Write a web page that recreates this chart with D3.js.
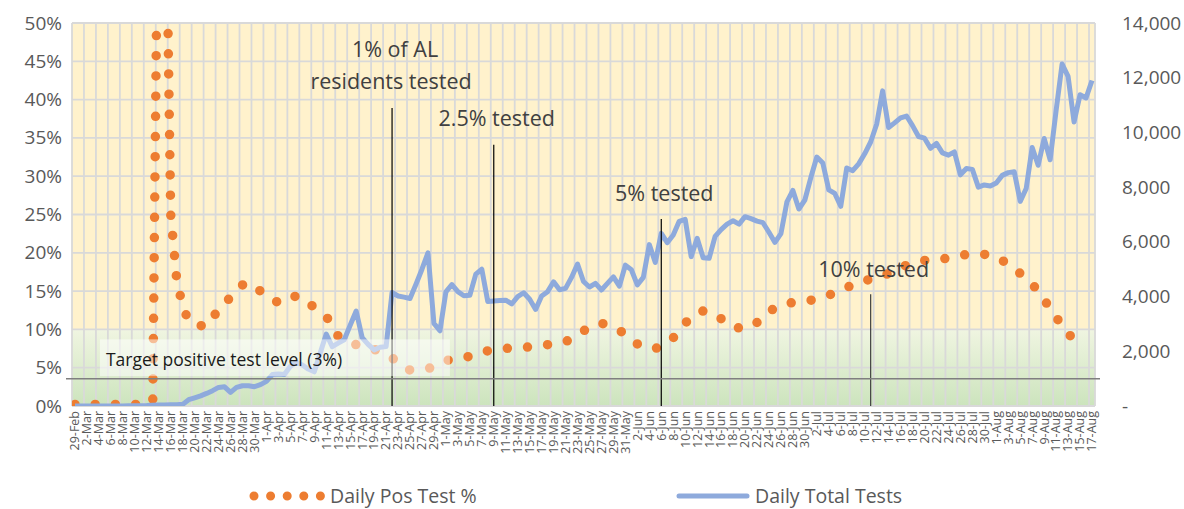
<!DOCTYPE html>
<html>
<head>
<meta charset="utf-8">
<script src="https://cdn.jsdelivr.net/npm/d3@7"></script>
<style>
  body { margin: 0; background: #fff; }
  text { font-family: "Open Sans", "Noto Sans", sans-serif; }
</style>
</head>
<body>
<div id="chart"></div>
<script>
// categories: one per day, 29-Feb to 17-Aug (2020)
const days = d3.timeDay.range(new Date(2020, 1, 29), new Date(2020, 7, 18));
const fmtDay = d3.timeFormat("%-d-%b");
const dayLabels = days.map(fmtDay);

// Daily Pos Test % (left axis, percent)
const posTestPct = [
  0.2, 0.2, 0.2, 0.2, 0.2, 0.2, 0.2, 0.2, 0.2, 0.2, 0.2, 0.2, 0.2, 0.6, 80, 79, 25, 16.5, 13, 11.1,
  10.7, 10.5, 10.4, 11.5, 12.6, 13.4, 14.2, 15.2, 15.8, 16.1, 15.6, 15.0, 14.4, 13.9, 13.5, 13.5, 14.0, 14.4, 14.0, 13.4,
  12.9, 12.3, 11.7, 10.5, 9.1, 8.6, 8.3, 8.0, 7.8, 7.6, 7.4, 7.1, 6.7, 6.3, 5.6, 4.9, 4.7, 4.7, 4.8, 4.9,
  5.1, 5.5, 5.9, 6.1, 6.2, 6.3, 6.5, 6.8, 7.0, 7.2, 7.3, 7.4, 7.5, 7.6, 7.6, 7.7, 7.7, 7.8, 7.9, 8.0,
  8.1, 8.2, 8.4, 8.8, 9.3, 9.8, 10.3, 10.7, 10.8, 10.6, 10.2, 9.9, 9.3, 8.7, 8.1, 7.7, 7.5, 7.5, 7.8, 8.3,
  8.9, 9.8, 10.8, 11.6, 12.2, 12.4, 12.3, 12.0, 11.4, 10.7, 10.3, 10.2, 10.2, 10.3, 10.9, 11.6, 12.3, 12.8, 13.2, 13.4,
  13.5, 13.5, 13.6, 13.8, 14.1, 14.3, 14.5, 14.7, 15.0, 15.4, 15.9, 16.2, 16.4, 16.5, 16.7, 17.0, 17.3, 17.6, 18.0, 18.4,
  18.7, 18.9, 19.0, 19.1, 19.2, 19.2, 19.3, 19.4, 19.6, 19.8, 19.9, 19.9, 19.8, 19.7, 19.4, 19.0, 18.5, 17.9, 17.3, 16.7,
  15.9, 15.0, 13.9, 12.7, 11.6, 10.5, 9.5, 8.6, null, null, null
];

// Daily Total Tests (right axis)
const totalTests = [
  0, 0, 0, 0, 0, 0, 0, 0, 0, 5, 10, 10, 15, 25, 35, 40, 45, 50, 60, 230,
  300, 370, 460, 560, 680, 700, 500, 680, 740, 740, 705, 780, 900, 1150, 1170, 1150, 1450, 1600, 1500, 1350,
  1250, 1950, 2630, 2170, 2300, 2420, 2950, 3470, 2500, 2250, 2050, 2150, 2170, 4150, 4020, 3980, 3930, 4450, 5000, 5600,
  3020, 2750, 4170, 4440, 4180, 4030, 4050, 4820, 5000, 3820, 3840, 3860, 3870, 3730, 4000, 4140, 3900, 3530, 4020, 4180,
  4540, 4250, 4300, 4700, 5190, 4550, 4350, 4480, 4240, 4480, 4720, 4380, 5150, 4980, 4430, 4700, 5900, 5250, 6310, 5970,
  6250, 6750, 6820, 5460, 6130, 5420, 5400, 6200, 6450, 6650, 6770, 6650, 6920, 6850, 6760, 6700, 6350, 5980, 6300, 7460,
  7880, 7200, 7530, 8350, 9100, 8880, 7900, 7770, 7300, 8700, 8600, 8850, 9220, 9650, 10300, 11520, 10180, 10350, 10530, 10600,
  10250, 9850, 9790, 9420, 9600, 9250, 9170, 9290, 8450, 8680, 8650, 8000, 8080, 8040, 8150, 8430, 8530, 8560, 7480, 7950,
  9450, 8800, 9780, 9000, 10800, 12500, 12050, 10380, 11380, 11260, 11900
];

const leftTicks = [0, 5, 10, 15, 20, 25, 30, 35, 40, 45, 50];
const rightTicks = [0, 2000, 4000, 6000, 8000, 10000, 12000, 14000];

// milestone notes: date of the marker line, text lines, text baseline (% axis), line top (% axis)
const milestones = [
  {day: "22-Apr", lines: ["1% of AL", "residents tested"], textAt: 45.5, lineTop: 38.9, color: "#000"},
  {day: "9-May", lines: ["2.5% tested"], textAt: 36.5, lineTop: 34.1, color: "#000"},
  {day: "6-Jun", lines: ["5% tested"], textAt: 26.7, lineTop: 24.4, color: "#000"},
  {day: "11-Jul", lines: ["10% tested"], textAt: 16.9, lineTop: 14.6, color: "#404040"}
];
const targetTests = 1000;          // drawn level of the target line (right axis)
const targetLabel = "Target positive test level (3%)";
const seriesNames = ["Daily Pos Test %", "Daily Total Tests"];

const W = 1184, H = 509;
const margin = {top: 23, right: 89, bottom: 103, left: 72};
const width = W - margin.left - margin.right;
const height = H - margin.top - margin.bottom;

const svg = d3.select("#chart").append("svg")
  .attr("width", W).attr("height", H);

const defs = svg.append("defs");
const grad = defs.append("linearGradient").attr("id", "greenGrad")
  .attr("x1", 0).attr("y1", 0).attr("x2", 0).attr("y2", 1);
grad.append("stop").attr("offset", "0%").attr("stop-color", "#f0f5e1");
grad.append("stop").attr("offset", "100%").attr("stop-color", "#cce4bd");
defs.append("clipPath").attr("id", "plotClip")
  .append("rect").attr("width", width).attr("height", height);

const g = svg.append("g")
  .attr("transform", "translate(" + margin.left + "," + margin.top + ")");

// scales
const x = d3.scaleBand().domain(dayLabels).range([0, width]).padding(0);
const y = d3.scaleLinear().domain([0, 50]).range([height, 0]);
const y2 = d3.scaleLinear().domain([0, 14000]).range([height, 0]);
const cx = d => x(d) + x.bandwidth() / 2;

// background
g.append("rect").attr("width", width).attr("height", height).attr("fill", "#fff2cc");
g.append("rect").attr("y", y(10)).attr("width", width).attr("height", y(0) - y(10))
  .attr("fill", "url(#greenGrad)");

// gridlines
g.append("g").selectAll("line")
  .data(leftTicks).join("line")
  .attr("x1", 0).attr("x2", width)
  .attr("y1", d => y(d)).attr("y2", d => y(d))
  .attr("stroke", "#d9d9d9").attr("stroke-width", 1.8);
const vGrid = dayLabels.filter((d, i) => i % 2 === 0).map(d => x(d)).concat([width]);
g.append("g").selectAll("line")
  .data(vGrid).join("line")
  .attr("x1", d => d).attr("x2", d => d)
  .attr("y1", 0).attr("y2", height)
  .attr("stroke", "#d9d9d9").attr("stroke-width", 1.8);

// left axis
const yAxis = d3.axisLeft(y).tickValues(leftTicks).tickSize(0).tickPadding(10)
  .tickFormat(d => d + "%");
g.append("g").call(yAxis)
  .call(a => a.select(".domain").remove())
  .selectAll("text").attr("font-size", 19).attr("fill", "#595959")
  .attr("font-family", "'Open Sans', sans-serif");

// right axis
const y2Axis = d3.axisRight(y2).tickValues(rightTicks).tickSize(0).tickPadding(27)
  .tickFormat(d => d === 0 ? "-" : d3.format(",")(d));
g.append("g").attr("transform", "translate(" + width + ",0)").call(y2Axis)
  .call(a => a.select(".domain").remove())
  .selectAll("text").attr("font-size", 19).attr("fill", "#595959")
  .attr("font-family", "'Open Sans', sans-serif");

// x axis labels (every other day)
const xAxis = d3.axisBottom(x).tickValues(dayLabels.filter((d, i) => i % 2 === 0))
  .tickSize(0).tickPadding(0);
g.append("g").attr("transform", "translate(0," + height + ")").call(xAxis)
  .call(a => a.select(".domain").remove())
  .selectAll("text")
  .attr("font-size", 12.5).attr("fill", "#595959")
  .attr("font-family", "'Open Sans', sans-serif")
  .attr("text-anchor", "end")
  .attr("transform", "rotate(-90)")
  .attr("x", -5).attr("y", 0).attr("dy", "0.35em");

const plot = g.append("g").attr("clip-path", "url(#plotClip)");

// pos test % : dotted line
const posLine = d3.line()
  .defined(d => d[1] !== null)
  .x(d => cx(d[0]))
  .y(d => y(d[1]));
plot.append("path")
  .datum(dayLabels.map((d, i) => [d, posTestPct[i]]))
  .attr("d", posLine)
  .attr("fill", "none")
  .attr("stroke", "#ed7d31")
  .attr("stroke-width", 9.5)
  .attr("stroke-linecap", "round")
  .attr("stroke-dasharray", "0 20.2");

// total tests : solid line
const testLine = d3.line()
  .x(d => cx(d[0]))
  .y(d => y2(d[1]));
plot.append("path")
  .datum(dayLabels.map((d, i) => [d, totalTests[i]]))
  .attr("d", testLine)
  .attr("fill", "none")
  .attr("stroke", "#8eaadc")
  .attr("stroke-width", 5)
  .attr("stroke-linejoin", "round");

// milestone lines + text
milestones.forEach(m => {
  g.append("line")
    .attr("x1", cx(m.day)).attr("x2", cx(m.day))
    .attr("y1", y(m.lineTop)).attr("y2", height)
    .attr("stroke", m.color)
    .attr("stroke-width", 1.2);
  const t = g.append("text")
    .attr("x", cx(m.day) + 3)
    .attr("y", y(m.textAt))
    .attr("text-anchor", "middle")
    .attr("font-size", 21.5)
    .attr("fill", "#404040");
  m.lines.forEach((l, i) => {
    t.append("tspan").attr("x", cx(m.day) + (i === 0 ? 3 : -1)).attr("dy", i === 0 ? 0 : 32).text(l);
  });
});

// target line and label box
g.append("line")
  .attr("x1", -6).attr("x2", width + 5)
  .attr("y1", y2(targetTests)).attr("y2", y2(targetTests))
  .attr("stroke", "#7f7f7f").attr("stroke-width", 1.5);
g.append("rect")
  .attr("x", x("5-Mar") - 2).attr("y", y(8.7))
  .attr("width", x("2-May") + 3 - x("5-Mar")).attr("height", y(3.9) - y(8.7))
  .attr("fill", "#fff").attr("opacity", 0.5);
g.append("text")
  .attr("x", x("5-Mar") + 4).attr("y", y(5.2))
  .attr("font-size", 17.5).attr("fill", "#1a1a1a")
  .text(targetLabel);

// legend
const legend = svg.append("g").attr("transform", "translate(0,496)");
legend.append("line")
  .attr("x1", 254).attr("x2", 321).attr("y1", 0).attr("y2", 0)
  .attr("stroke", "#ed7d31").attr("stroke-width", 9)
  .attr("stroke-linecap", "round").attr("stroke-dasharray", "0 16.6");
legend.append("text").attr("x", 330).attr("y", 0).attr("dy", "0.35em")
  .attr("font-size", 19.5).attr("fill", "#595959").text(seriesNames[0]);
legend.append("line")
  .attr("x1", 679).attr("x2", 747).attr("y1", 0).attr("y2", 0)
  .attr("stroke", "#8eaadc").attr("stroke-width", 5)
  .attr("stroke-linecap", "round");
legend.append("text").attr("x", 755).attr("y", 0).attr("dy", "0.35em")
  .attr("font-size", 19.5).attr("fill", "#595959").text(seriesNames[1]);
</script>
</body>
</html>
